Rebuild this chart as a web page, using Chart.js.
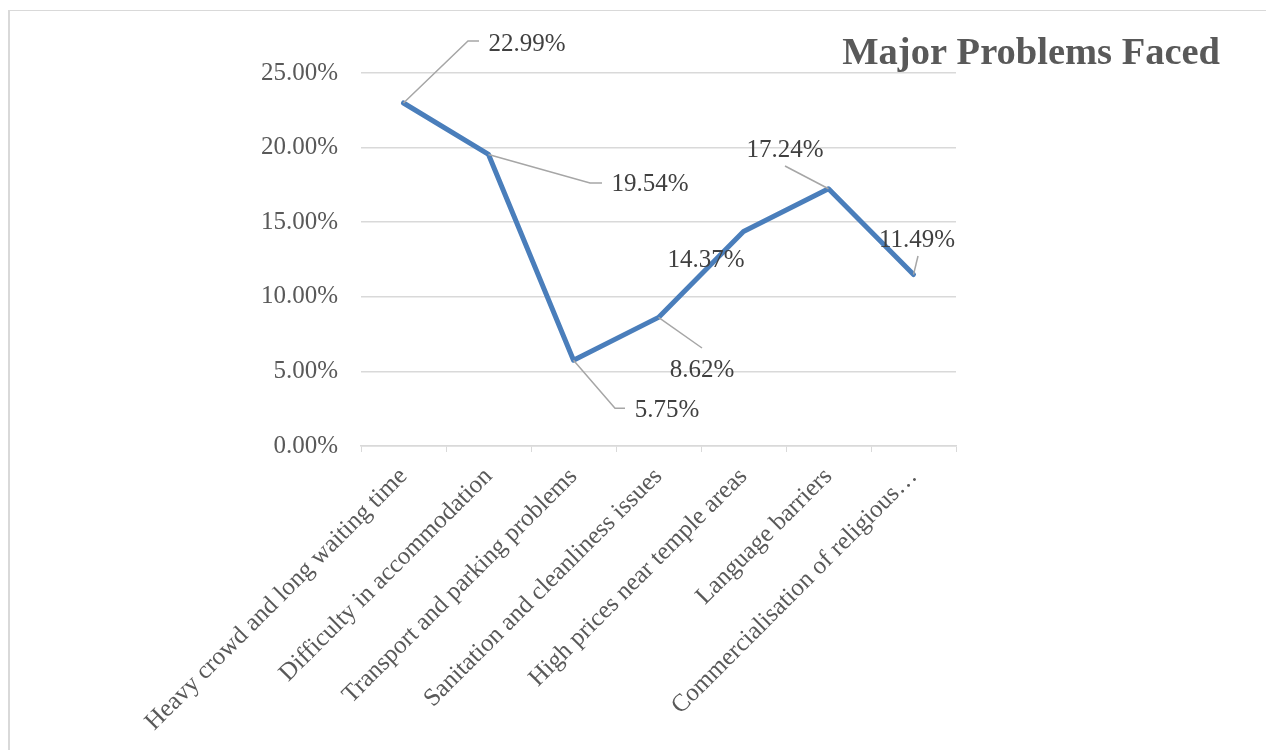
<!DOCTYPE html>
<html lang="en">
<head>
  <meta charset="UTF-8" />
  <title>Major Problems Faced</title>
  <script src="https://cdn.jsdelivr.net/npm/chart.js"></script>
  <style>
    html, body {
      margin: 0;
      padding: 0;
      background: #fff;
    }
    .frame {
      position: absolute;
      left: 8px;
      top: 10px;
      width: 1258px;
      height: 740px;
      border-top: 1px solid #d9d9d9;
      border-left: 2px solid #d9d9d9;
    }
    .chart-box {
      position: absolute;
      left: 0;
      top: 0;
      width: 1266px;
      height: 750px;
    }
  </style>
</head>
<body>
  <div class="frame"></div>
  <div class="chart-box">
    <canvas id="problemsChart"></canvas>
  </div>

  <script>
    const categories = [
      'Heavy crowd and long waiting time',
      'Difficulty in accommodation',
      'Transport and parking problems',
      'Sanitation and cleanliness issues',
      'High prices near temple areas',
      'Language barriers',
      'Commercialisation of religious…'
    ];
    const shares = [22.99, 19.54, 5.75, 8.62, 14.37, 17.24, 11.49];
    const yTicks = [0, 5, 10, 15, 20, 25];

    const FONT = "'Liberation Serif', 'Times New Roman', serif";

    // where each data label sits, relative to its point, plus its leader line
    const labelPlacement = [
      { dx: 123.5, dy: -59, leader: [[64.5, -62], [75.5, -62]] },
      { dx: 161.5, dy: 29.5, leader: [[101.5, 28.5], [113.5, 28.5]] },
      { dx: 93.5, dy: 50, leader: [[41.5, 48], [51.5, 48]] },
      { dx: 43.5, dy: 52.6, leader: [[43.5, 30.6]] },
      { dx: -37.5, dy: 28.4, leader: null },
      { dx: -43.5, dy: -38.8, leader: [[-43.5, -22.8]] },
      { dx: 3.5, dy: -34.6, leader: [[4.5, -18.6]] }
    ];

    const dataLabels = {
      id: 'dataLabels',
      afterDatasetsDraw(chart) {
        const ctx = chart.ctx;
        const meta = chart.getDatasetMeta(0);
        ctx.save();
        meta.data.forEach((pt, i) => {
          const place = labelPlacement[i];
          if (place.leader) {
            ctx.beginPath();
            ctx.moveTo(pt.x, pt.y);
            place.leader.forEach(([lx, ly]) => ctx.lineTo(pt.x + lx, pt.y + ly));
            ctx.strokeStyle = '#a6a6a6';
            ctx.lineWidth = 1.5;
            ctx.stroke();
          }
          ctx.font = '25px ' + FONT;
          ctx.fillStyle = '#404040';
          ctx.textAlign = 'center';
          ctx.textBaseline = 'middle';
          ctx.fillText(shares[i].toFixed(2) + '%', pt.x + place.dx, pt.y + place.dy);
        });
        ctx.restore();
      }
    };

    const titleText = {
      id: 'titleText',
      afterDraw(chart) {
        const ctx = chart.ctx;
        ctx.save();
        ctx.font = 'bold 38.5px ' + FONT;
        ctx.fillStyle = '#595959';
        ctx.textAlign = 'right';
        ctx.textBaseline = 'alphabetic';
        ctx.fillText('Major Problems Faced', chart.chartArea.right + 264, 64);
        ctx.restore();
      }
    };

    new Chart(document.getElementById('problemsChart'), {
      type: 'line',
      data: {
        labels: categories,
        datasets: [{
          data: shares,
          borderColor: '#4A7EBB',
          borderWidth: 5,
          pointRadius: 0,
          pointHoverRadius: 0,
          borderJoinStyle: 'round',
          borderCapStyle: 'round',
          tension: 0,
          fill: false
        }]
      },
      options: {
        responsive: true,
        maintainAspectRatio: false,
        animation: false,
        layout: { padding: { left: 0, top: 73, right: 310, bottom: 0 } },
        plugins: {
          legend: { display: false },
          title: { display: false },
          tooltip: { enabled: false }
        },
        scales: {
          x: {
            offset: true,
            grid: {
              offset: true,
              drawOnChartArea: false,
              drawTicks: true,
              tickLength: 6,
              color: '#d9d9d9'
            },
            border: { color: '#d9d9d9', width: 1.5 },
            ticks: {
              minRotation: 45,
              maxRotation: 45,
              autoSkip: false,
              padding: 10,
              color: '#595959',
              font: { family: FONT, size: 25 }
            },
            afterFit(scale) { scale.height = 304; }
          },
          y: {
            min: 0,
            max: 25,
            afterBuildTicks(scale) {
              scale.ticks = yTicks.map(v => ({ value: v }));
            },
            grid: { color: '#d9d9d9', lineWidth: 1.5, drawTicks: false },
            border: { display: false },
            ticks: {
              padding: 23,
              color: '#595959',
              font: { family: FONT, size: 25 },
              callback: v => v.toFixed(2) + '%'
            },
            afterFit(scale) { scale.width = 361; }
          }
        }
      },
      plugins: [dataLabels, titleText]
    });
  </script>
</body>
</html>
